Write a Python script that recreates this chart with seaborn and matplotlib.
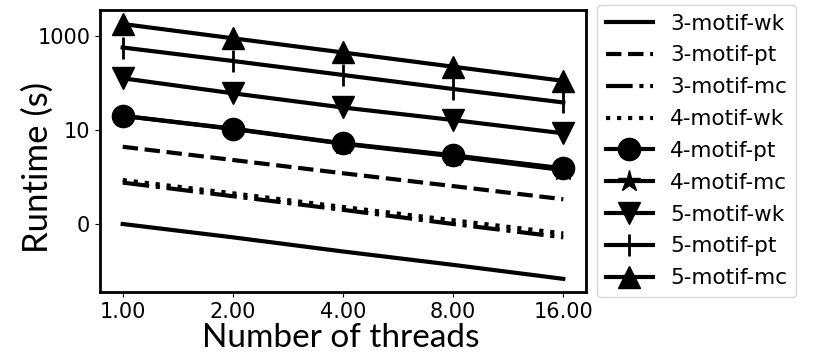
import matplotlib
matplotlib.use("Agg")
import matplotlib.pyplot as plt
from matplotlib.ticker import FixedLocator, FormatStrFormatter, NullLocator
import seaborn as sns
import pandas as pd

# thread counts on the x axis
threads = [1, 2, 4, 8, 16]

# runtimes (s)
rt_3_wk = [0.1, 0.052, 0.026, 0.0135, 0.0068]
rt_3_pt = [4.4, 2.3, 1.2, 0.64, 0.336]
rt_3_mc = [0.76, 0.39, 0.20, 0.10, 0.052]
rt_4_wk = [0.86, 0.45, 0.23, 0.12, 0.063]
rt_4_pt = [20.0, 10.7, 5.2, 2.9, 1.53]
rt_4_mc = [20.0, 10.5, 5.1, 2.75, 1.40]
rt_5_wk = [126, 60.4, 30.1, 16.3, 8.5]
rt_5_pt = [569, 294, 148, 74.5, 38.5]
rt_5_mc = [1800, 894, 446, 222, 111]

series = [
    ("3-motif-wk", rt_3_wk, "-", None),
    ("3-motif-pt", rt_3_pt, "--", None),
    ("3-motif-mc", rt_3_mc, "-.", None),
    ("4-motif-wk", rt_4_wk, ":", None),
    ("4-motif-pt", rt_4_pt, "-", "o"),
    ("4-motif-mc", rt_4_mc, "-", "*"),
    ("5-motif-wk", rt_5_wk, "-", "v"),
    ("5-motif-pt", rt_5_pt, "-", "|"),
    ("5-motif-mc", rt_5_mc, "-", "^"),
]

fig, ax = plt.subplots(figsize=(8.31, 3.56), dpi=100)
fig.subplots_adjust(left=100 / 831, right=586 / 831, top=1 - 10 / 356, bottom=1 - 292 / 356)

for name, vals, ls, mk in series:
    df = pd.DataFrame({"threads": threads, "runtime": vals})
    kw = {}
    if mk:
        kw = dict(marker=mk, markersize=16, markerfacecolor="black",
                  markeredgecolor="black", markeredgewidth=2 if mk == "|" else 1)
    sns.lineplot(data=df, x="threads", y="runtime", ax=ax, color="black",
                 linestyle=ls, linewidth=3, legend=False, **kw)

ax.set_xscale("log", base=2)
ax.set_yscale("log")
ax.set_xlim(2 ** -0.206, 2 ** 4.206)
ax.set_ylim(10 ** -2.447, 10 ** 3.553)

ax.xaxis.set_major_locator(FixedLocator(threads))
ax.xaxis.set_major_formatter(FormatStrFormatter("%.2f"))
ax.xaxis.set_minor_locator(NullLocator())
ax.yaxis.set_major_locator(FixedLocator([0.1, 10, 1000]))
ax.yaxis.set_major_formatter(FormatStrFormatter("%d"))
ax.yaxis.set_minor_locator(NullLocator())
ax.tick_params(labelsize=15)

for sp in ax.spines.values():
    sp.set_linewidth(2)

ax.set_xlabel("Number of threads", fontsize=24, family=["Lato", "DejaVu Sans"], va="center")
ax.xaxis.set_label_coords(0.495, -0.163)
ax.set_ylabel("Runtime (s)", fontsize=25, family=["Lato", "DejaVu Sans"], va="center")
ax.yaxis.set_label_coords(-0.128, 0.44)

ax.legend(ax.lines, [s[0] for s in series], loc="upper left",
          bbox_to_anchor=(597 / 831, 1 - 5 / 356), bbox_transform=fig.transFigure,
          borderaxespad=0, fontsize=15.5, handlelength=2.2, labelspacing=0.55)

fig.savefig("out.png", dpi=100)
